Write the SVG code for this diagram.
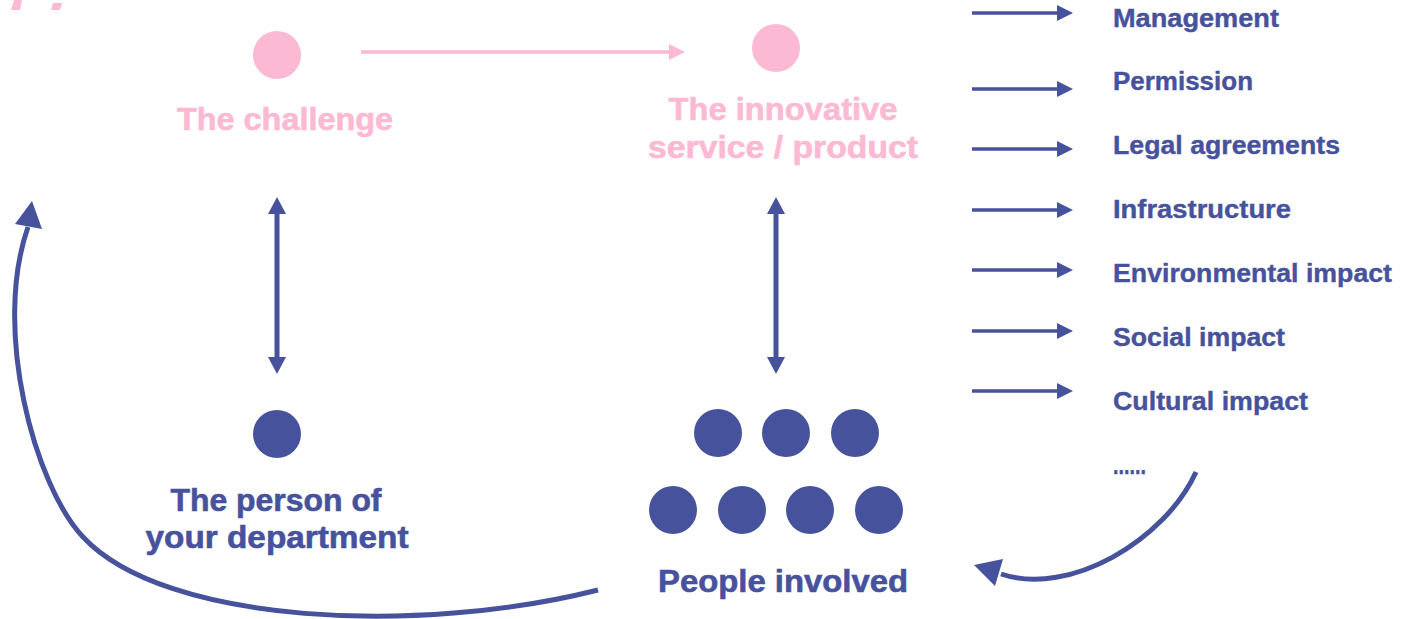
<svg xmlns="http://www.w3.org/2000/svg" width="1412" height="619" viewBox="0 0 1412 619">
<style>
.bg{fill:#ffffff}
.pk{fill:#fbb9d3}
.bl{fill:#47529c}
.t{font-family:"Liberation Sans",Arial,sans-serif;font-weight:bold}
.big{font-size:31px;stroke-width:0.6}
.tp{fill:#fbb9d3;stroke:#fbb9d3}
.tb{fill:#47529c;stroke:#47529c}
.lst{font-size:26.5px;fill:#47529c;stroke:#47529c;stroke-width:0.4}
.ln{fill:none;stroke:#47529c;stroke-width:5}
.lnp{fill:none;stroke:#fbb9d3;stroke-width:3.5}
.lnr{fill:none;stroke:#47529c;stroke-width:3.5}
</style>
<defs>
<marker id="ah" viewBox="0 0 16 16" refX="1" refY="8" markerWidth="16" markerHeight="16" markerUnits="userSpaceOnUse" orient="auto">
<path d="M0 0 L16 8 L0 16 Z" fill="#47529c"/>
</marker>
<marker id="ahp" viewBox="0 0 16 16" refX="1" refY="8" markerWidth="16" markerHeight="16" markerUnits="userSpaceOnUse" orient="auto">
<path d="M0 0 L16 8 L0 16 Z" fill="#fbb9d3"/>
</marker>
<marker id="ahd" viewBox="0 0 18 18" refX="1" refY="9" markerWidth="18" markerHeight="18" markerUnits="userSpaceOnUse" orient="auto-start-reverse">
<path d="M0 0 L17 9 L0 18 Z" fill="#47529c"/>
</marker>
</defs>
<rect class="bg" x="0" y="0" width="1412" height="619"/>

<!-- decorative pink marks (cut off at top) -->
<polygon class="pk" points="14,0 22,0 20,10 11,10"/>
<polygon class="pk" points="53,3 62,3 60,10 51,10"/>

<g id="connectors">
  <line class="lnp" x1="361" y1="52" x2="670" y2="52" marker-end="url(#ahp)"/>
  <line class="ln" x1="277" y1="213" x2="277" y2="358" marker-start="url(#ahd)" marker-end="url(#ahd)"/>
  <line class="ln" x1="776" y1="213" x2="776" y2="358" marker-start="url(#ahd)" marker-end="url(#ahd)"/>
  <line class="lnr" x1="972" y1="13" x2="1058" y2="13" marker-end="url(#ah)"/>
  <line class="lnr" x1="972" y1="89" x2="1058" y2="89" marker-end="url(#ah)"/>
  <line class="lnr" x1="972" y1="149" x2="1058" y2="149" marker-end="url(#ah)"/>
  <line class="lnr" x1="972" y1="210" x2="1058" y2="210" marker-end="url(#ah)"/>
  <line class="lnr" x1="972" y1="270" x2="1058" y2="270" marker-end="url(#ah)"/>
  <line class="lnr" x1="972" y1="331" x2="1058" y2="331" marker-end="url(#ah)"/>
  <line class="lnr" x1="972" y1="391" x2="1058" y2="391" marker-end="url(#ah)"/>
  <path class="ln" d="M598 590 C420 635 165 625 83 537 C35 486 -8 330 28 227"/>
  <polygon class="bl" points="32,201 15,224 42,229"/>
  <path class="ln" d="M1196 472 C1165 540 1070 597 1001 574"/>
  <polygon class="bl" points="974,565 1003,559 995,586"/>
</g>

<g id="challenge">
  <circle class="pk" cx="277" cy="55" r="24"/>
  <text class="t big tp" x="285" y="130" text-anchor="middle" textLength="216" lengthAdjust="spacingAndGlyphs">The challenge</text>
</g>

<g id="innovative">
  <circle class="pk" cx="776" cy="48" r="24"/>
  <text class="t big tp" x="783" y="120" text-anchor="middle" textLength="229" lengthAdjust="spacingAndGlyphs">The innovative</text>
  <text class="t big tp" x="783" y="158" text-anchor="middle" textLength="270" lengthAdjust="spacingAndGlyphs">service / product</text>
</g>

<g id="person">
  <circle class="bl" cx="277" cy="434" r="24"/>
  <text class="t big tb" x="276" y="511" text-anchor="middle" textLength="211" lengthAdjust="spacingAndGlyphs">The person of</text>
  <text class="t big tb" x="277" y="548" text-anchor="middle" textLength="263" lengthAdjust="spacingAndGlyphs">your department</text>
</g>

<g id="people">
  <circle class="bl" cx="718" cy="433" r="24"/>
  <circle class="bl" cx="786" cy="433" r="24"/>
  <circle class="bl" cx="855" cy="433" r="24"/>
  <circle class="bl" cx="673" cy="510" r="24"/>
  <circle class="bl" cx="742" cy="510" r="24"/>
  <circle class="bl" cx="810" cy="510" r="24"/>
  <circle class="bl" cx="879" cy="510" r="24"/>
  <text class="t big tb" x="783" y="592" text-anchor="middle" textLength="250" lengthAdjust="spacingAndGlyphs">People involved</text>
</g>

<g id="factors">
  <text class="t lst" x="1113" y="27" textLength="166" lengthAdjust="spacingAndGlyphs">Management</text>
  <text class="t lst" x="1113" y="90" textLength="140" lengthAdjust="spacingAndGlyphs">Permission</text>
  <text class="t lst" x="1113" y="154" textLength="227" lengthAdjust="spacingAndGlyphs">Legal agreements</text>
  <text class="t lst" x="1113" y="218" textLength="178" lengthAdjust="spacingAndGlyphs">Infrastructure</text>
  <text class="t lst" x="1113" y="282" textLength="279" lengthAdjust="spacingAndGlyphs">Environmental impact</text>
  <text class="t lst" x="1113" y="346" textLength="172" lengthAdjust="spacingAndGlyphs">Social impact</text>
  <text class="t lst" x="1113" y="410" textLength="195" lengthAdjust="spacingAndGlyphs">Cultural impact</text>
  <text class="t lst" x="1113" y="474" textLength="33" lengthAdjust="spacingAndGlyphs">......</text>
</g>
</svg>
